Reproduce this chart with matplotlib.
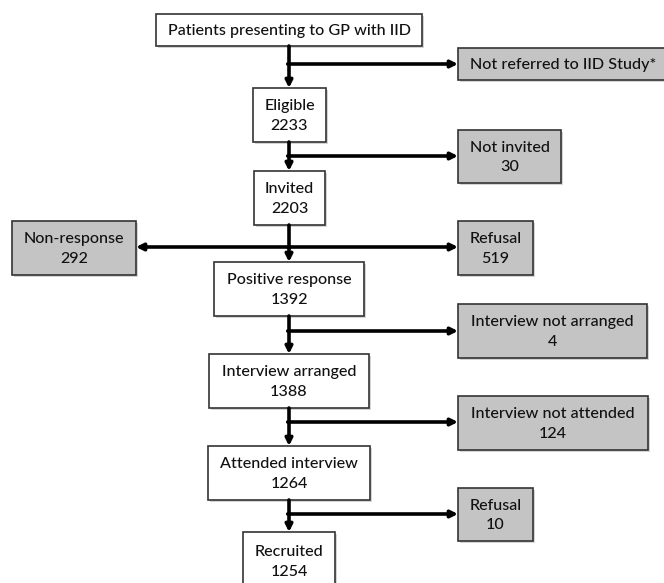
import matplotlib
matplotlib.use("Agg")
import matplotlib.pyplot as plt
from matplotlib.patches import Rectangle

# Data
main_labels = ["Patients presenting to GP with IID", "Eligible", "Invited", "Positive response",
               "Interview arranged", "Attended interview", "Recruited"]
main_counts = [None, 2233, 2203, 1392, 1388, 1264, 1254]
excl_labels = ["Not referred to IID Study*", "Not invited", "Refusal", "Interview not arranged",
               "Interview not attended", "Refusal"]
excl_counts = [None, 30, 519, 4, 124, 10]
left_label = "Non-response"
left_count = 292

# Layout (pixel coordinates)
main_boxes = [(156, 14, 422, 46), (253, 88, 326, 142), (254, 171, 325, 225), (214, 262, 364, 316),
              (209, 354, 369, 408), (208, 446, 370, 500), (243, 532, 335, 590)]
excl_boxes = [(458, 48, 668, 80), (458, 130, 561, 183), (458, 221, 533, 275), (458, 304, 647, 358),
              (458, 396, 648, 450), (458, 488, 533, 541)]
arrow_y = [64, 156, 247, 331, 422, 514]
left_box = (12, 221, 136, 275)
xc = 289

plt.rcParams['font.family'] = ['Lato', 'DejaVu Sans']
fig = plt.figure(figsize=(6.64, 5.83), dpi=100)
ax = fig.add_axes([0, 0, 1, 1])
ax.set_xlim(0, 664)
ax.set_ylim(583, 0)
ax.axis('off')

def box(b, fc, text):
    x0, y0, x1, y1 = b
    ax.add_patch(Rectangle((x0 + 1.5, y0 + 1.5), x1 - x0, y1 - y0, fc='#aaaaaa', ec='none', zorder=1, alpha=0.5))
    ax.add_patch(Rectangle((x0, y0), x1 - x0, y1 - y0, fc=fc, ec='#333333', lw=1.2, zorder=2))
    ax.text((x0 + x1) / 2, (y0 + y1) / 2 + 1, text, ha='center', va='center', fontsize=11.6,
            linespacing=1.5, zorder=3, color='#111111', fontweight='medium')

def fmt(label, count):
    return label if count is None else f"{label}\n{count}"

for b, l, c in zip(main_boxes, main_labels, main_counts):
    box(b, 'white', fmt(l, c))
for b, l, c in zip(excl_boxes, excl_labels, excl_counts):
    box(b, '#c4c4c4', fmt(l, c))
box(left_box, '#c4c4c4', fmt(left_label, left_count))

akw = dict(arrowstyle='-|>,head_length=0.4,head_width=0.2', color='black', lw=2.6,
           shrinkA=0, shrinkB=0)
# vertical arrows
for i in range(len(main_boxes) - 1):
    ax.annotate('', xy=(xc, main_boxes[i + 1][1]), xytext=(xc, main_boxes[i][3]),
                arrowprops=akw, zorder=4)
# horizontal arrows
for y, b in zip(arrow_y, excl_boxes):
    ax.annotate('', xy=(b[0], y), xytext=(xc - 1.3, y), arrowprops=akw, zorder=4)
ax.annotate('', xy=(left_box[2], arrow_y[2]), xytext=(xc + 1.3, arrow_y[2]), arrowprops=akw, zorder=4)

fig.savefig('out.png', dpi=100, facecolor='white')
